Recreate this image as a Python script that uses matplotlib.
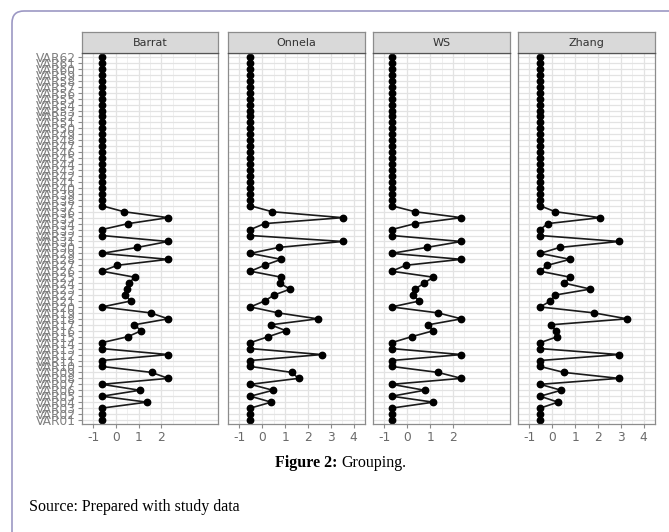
# Grouping chart: standardized scores per variable for four weighting methods

import numpy as np
import matplotlib.pyplot as plt
from matplotlib.patches import FancyBboxPatch

plt.rcParams['axes.unicode_minus'] = False

variables = ['VAR%02d' % i for i in range(1, 63)]  # VAR01 .. VAR62
methods = ['Barrat', 'Onnela', 'WS', 'Zhang']

# values listed from VAR01 up to VAR62
barrat = [-0.62, -0.62, -0.62, 1.36, -0.62, 1.05, -0.62, 2.30, 1.57, -0.62,
          -0.62, 2.30, -0.62, -0.62, 0.52, 1.11, 0.80, 2.30, 1.53, -0.62,
          0.65, 0.40, 0.49, 0.58, 0.82, -0.62, 0.06, 2.30, -0.62, 0.94,
          2.30, -0.62, -0.62, 0.54, 2.30, 0.35, -0.62, -0.62, -0.62, -0.62,
          -0.62, -0.62, -0.62, -0.62, -0.62, -0.62, -0.62, -0.62, -0.62, -0.62,
          -0.62, -0.62, -0.62, -0.62, -0.62, -0.62, -0.62, -0.62, -0.62, -0.62,
          -0.62, -0.62]
onnela = [-0.52, -0.52, -0.52, 0.39, -0.52, 0.47, -0.52, 1.59, 1.29, -0.52,
          -0.52, 2.60, -0.52, -0.52, 0.26, 1.04, 0.37, 2.43, 0.70, -0.52,
          0.10, 0.52, 1.22, 0.76, 0.83, -0.52, 0.10, 0.83, -0.52, 0.72,
          3.52, -0.52, -0.52, 0.10, 3.52, 0.43, -0.52, -0.52, -0.52, -0.52,
          -0.52, -0.52, -0.52, -0.52, -0.52, -0.52, -0.52, -0.52, -0.52, -0.52,
          -0.52, -0.52, -0.52, -0.52, -0.52, -0.52, -0.52, -0.52, -0.52, -0.52,
          -0.52, -0.52]
ws = [-0.68, -0.68, -0.68, 1.14, -0.68, 0.76, -0.68, 2.37, 1.35, -0.68,
      -0.68, 2.37, -0.68, -0.68, 0.19, 1.14, 0.92, 2.37, 1.35, -0.68,
      0.53, 0.24, 0.34, 0.74, 1.14, -0.68, -0.07, 2.37, -0.68, 0.85,
      2.37, -0.68, -0.68, 0.34, 2.37, 0.34, -0.68, -0.68, -0.68, -0.68,
      -0.68, -0.68, -0.68, -0.68, -0.68, -0.68, -0.68, -0.68, -0.68, -0.68,
      -0.68, -0.68, -0.68, -0.68, -0.68, -0.68, -0.68, -0.68, -0.68, -0.68,
      -0.68, -0.68]
zhang = [-0.53, -0.53, -0.53, 0.25, -0.53, 0.39, -0.53, 2.92, 0.51, -0.53,
         -0.53, 2.92, -0.53, -0.53, 0.22, 0.16, -0.07, 3.28, 1.83, -0.53,
         -0.08, 0.13, 1.67, 0.53, 0.78, -0.53, -0.21, 0.78, -0.53, 0.33,
         2.92, -0.53, -0.53, -0.20, 2.10, 0.13, -0.53, -0.53, -0.53, -0.53,
         -0.53, -0.53, -0.53, -0.53, -0.53, -0.53, -0.53, -0.53, -0.53, -0.53,
         -0.53, -0.53, -0.53, -0.53, -0.53, -0.53, -0.53, -0.53, -0.53, -0.53,
         -0.53, -0.53]
series = [barrat, onnela, ws, zhang]

xlims = [(-1.13, 2.67), (-1.21, 4.17), (-1.22, 2.67), (-1.22, 4.17)]
xticks = [[-1, 0, 1, 2], [-1, 0, 1, 2, 3, 4], [-1, 0, 1, 2], [-1, 0, 1, 2, 3, 4]]

W, H = 669, 532
fig = plt.figure(figsize=(W / 100, H / 100), dpi=100)

# panel pixel boxes (left, right)
panels = [(82, 218), (228, 365), (373, 510), (518, 655)]
ptop, pbot = 53.4, 423.6
stop = 32

ypos = np.arange(1, len(variables) + 1)

for k, (name, vals) in enumerate(zip(methods, series)):
    x0, x1 = panels[k]
    ax = fig.add_axes([x0 / W, 1 - pbot / H, (x1 - x0) / W, (pbot - ptop) / H])
    ax.set_facecolor('white')
    ax.set_xlim(*xlims[k])
    ax.set_ylim(0.4, len(variables) + 0.6)
    ax.set_xticks(xticks[k])
    ax.set_xticks(np.arange(-1.5, 4.6, 1.0), minor=True)
    ax.set_yticks(ypos)
    ax.grid(True, which='major', color='#E3E3E3', lw=0.9)
    ax.grid(True, which='minor', axis='x', color='#EEEEEE', lw=0.6)
    ax.set_axisbelow(True)
    ax.plot(vals, ypos, '-', color='#1a1a1a', lw=1.2)
    ax.plot(vals, ypos, 'o', color='black', ms=4.6)
    for s in ax.spines.values():
        s.set_color('#8c8c8c')
        s.set_linewidth(0.9)
    ax.tick_params(axis='x', labelsize=8.8, colors='#8c8c8c', labelcolor='#6a6a6a',
                   length=3, width=0.8, pad=2)
    ax.tick_params(axis='x', which='minor', length=0)
    if k == 0:
        ax.set_yticklabels(variables, fontsize=8.8, color='#808080')
        ax.tick_params(axis='y', length=3, width=0.8, colors='#8c8c8c', pad=1.5)
        for lab in ax.get_yticklabels():
            lab.set_color('#808080')
    else:
        ax.set_yticklabels([])
        ax.tick_params(axis='y', length=0)

    # facet strip
    sax = fig.add_axes([x0 / W, 1 - ptop / H, (x1 - x0) / W, (ptop - stop) / H])
    sax.set_facecolor('#D9D9D9')
    sax.set_xticks([])
    sax.set_yticks([])
    for s in sax.spines.values():
        s.set_color('#8c8c8c')
        s.set_linewidth(0.9)
    sax.spines['bottom'].set_color('#555555')
    sax.text(0.5, 0.5, name, ha='center', va='center', fontsize=8,
             color='#333333', transform=sax.transAxes)

# outer frame with rounded corner
frame = FancyBboxPatch((0.12, -1.0), 10, 5.32 - 0.11 + 1.0,
                       boxstyle='round,pad=0,rounding_size=0.12',
                       transform=fig.dpi_scale_trans, fill=False,
                       ec='#9c98c4', lw=1.2)
fig.add_artist(frame)

# caption
fig.text(337 / W, 1 - 463 / H, 'Figure 2:', ha='right', va='center',
         fontsize=11.5, fontweight='bold', family='Liberation Serif')
fig.text(341 / W, 1 - 463 / H, 'Grouping.', ha='left', va='center',
         fontsize=11.5, family='Liberation Serif')
fig.text(29 / W, 1 - 507 / H, 'Source: Prepared with study data', ha='left',
         va='center', fontsize=11.5, family='Liberation Serif')

plt.savefig('out.png', dpi=100)
